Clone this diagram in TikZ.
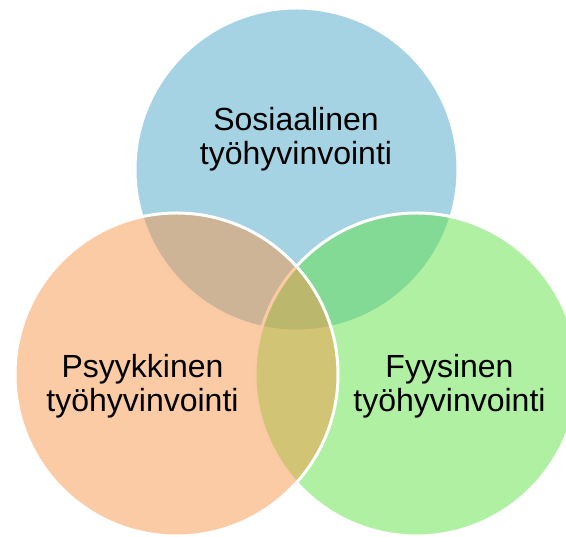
\documentclass[tikz,border=0pt]{standalone}
\usepackage{fontspec}
\setmainfont{Liberation Sans}
\usepackage{tikz}
\usetikzlibrary{positioning}

\definecolor{sosblue}{RGB}{75,167,199}
\definecolor{fyygreen}{RGB}{97,226,72}
\definecolor{psyorange}{RGB}{245,151,73}

\tikzset{
	venn/.style={draw=white, line width=3pt, fill opacity=0.5},
	vlabel/.style={align=center, inner sep=0pt, font=\fontsize{32}{34}\selectfont}
}

\begin{document}
\begin{tikzpicture}[x=1pt, y=1pt]
			\useasboundingbox (0, 0) rectangle (566, 537);
			\clip (0, 0) rectangle (566, 537);

			\coordinate (sos) at (296.5, 367.5);
			\coordinate (psy) at (176.5, 162.5);
			\coordinate (fyy) at (416.5, 162.5);

			\filldraw[venn, fill=sosblue] (sos) circle[radius=161.5];
			\filldraw[venn, fill=fyygreen] (fyy) circle[radius=161.5];
			\filldraw[venn, fill=psyorange] (psy) circle[radius=161.5];

			\node[vlabel] (sostxt) at (296, 397.5) {Sosiaalinen\\työhyvinvointi};
			\node[vlabel] (psytxt) at (142.5, 150.5) {Psyykkinen\\työhyvinvointi};
			\node[vlabel] (fyytxt) at (449.5, 150.5) {Fyysinen\\työhyvinvointi};
        \end{tikzpicture}
\end{document}
